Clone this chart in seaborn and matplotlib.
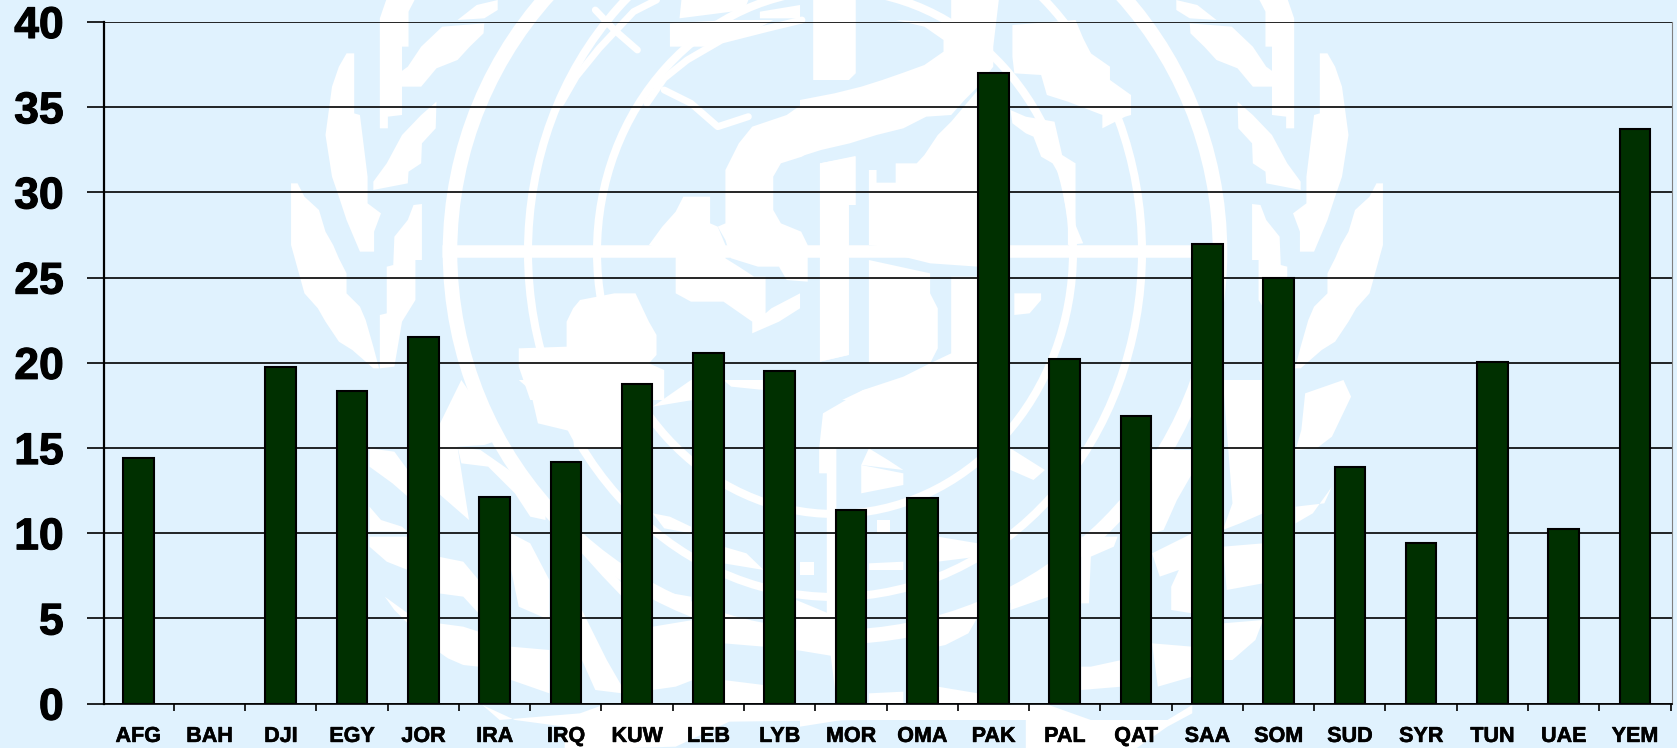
import numpy as np
import matplotlib
matplotlib.use("Agg")
import matplotlib.pyplot as plt
import matplotlib.patheffects as pe
from matplotlib.patches import Polygon, Ellipse
from matplotlib.ticker import FixedLocator, NullFormatter
import seaborn as sns
import pandas as pd

countries = ["AFG","BAH","DJI","EGY","JOR","IRA","IRQ","KUW","LEB","LYB","MOR","OMA",
             "PAK","PAL","QAT","SAA","SOM","SUD","SYR","TUN","UAE","YEM"]
values = [14.4, np.nan, 19.75, 18.35, 21.5, 12.15, 14.2, 18.75, 20.55, 19.55, 11.35, 12.05,
          37.0, 20.2, 16.9, 26.95, 25.0, 13.9, 9.45, 20.05, 10.25, 33.7]
y_ticks = [0, 5, 10, 15, 20, 25, 30, 35, 40]

BG = "#E0F2FE"
BAR = "#003000"
W, H = 1677, 748

sns.set_theme(style="white")
plt.rcParams["font.family"] = ["Liberation Sans", "DejaVu Sans"]

fig = plt.figure(figsize=(W / 100, H / 100), dpi=100, facecolor=BG)

# decorative emblem watermark behind the chart (pixel space of the figure)
bg = fig.add_axes([0, 0, 1, 1], zorder=0)
bg.set_xlim(0, W); bg.set_ylim(H, 0); bg.axis("off")
CX, CY, MIRROR = 835, 252, 837
for a, b, lw in [(385, 385, 10.5), (307, 345, 5.8), (238, 262, 5.8)]:
    bg.add_patch(Ellipse((CX, CY), 2 * a, 2 * b, fc="none", ec="white", lw=lw))
bg.plot([442, 1217], [251, 251], color="white", lw=9, solid_capstyle="butt")

SX = 2.613
def conv(x0, y0, pts):
    return [(x0 + x / SX, y0 + y / 3) for x, y in pts]

leaves = [
    [(305,-5),(287,55),(287,385),(308,385),(308,350),(345,345),(345,140),(362,140),(362,35),(380,-5)],
    [(200,160),(180,200),(162,260),(145,405),(162,530),(180,590),(200,660),(235,755),(272,755),(272,695),(290,640),(255,610),(255,530),(235,345),(220,340),(220,160)],
    [(397,612),(375,615),(360,660),(325,710),(322,795),(305,800),(305,940),(287,945),(287,1105),(325,1100),(345,965),(380,900),(380,780),(397,780)],
    [(55,550),(55,735),(90,880),(125,925),(145,965),(180,1025),(215,1050),(270,1105),(285,1105),(270,1040),(250,960),(235,920),(200,880),(200,820),(180,775),(165,735),(145,695),(128,630),(90,590),(72,550)],
    [(330,225),(360,200),(395,140),(450,80),(560,70),(558,100),(522,140),(490,180),(435,205),(395,260),(330,260)],
    [(270,570),(270,545),(305,490),(345,405),(395,345),(435,305),(433,385),(397,430),(395,490),(362,515),(360,550)],
    [(490,60),(540,15),(595,0),(595,30),(560,55)],
]
for poly in leaves:
    pts = conv(270, 0, poly)
    bg.add_patch(Polygon(pts, fc="white", ec="none"))
    bg.add_patch(Polygon([(2 * MIRROR - x, y) for x, y in pts], fc="white", ec="none"))

for line in [
    [(985,310),(1030,235),(1090,180),(1180,120),(1300,85),(1390,60)],
    [(850,30),(900,90),(960,150)],
    [(1030,270),(1100,310),(1170,380),(1250,350)],
    [(760,310),(800,230),(860,145),(950,35),(1010,0)],
]:
    xy = np.array(conv(270, 0, line))
    bg.plot(xy[:, 0], xy[:, 1], color="white", lw=5, solid_capstyle="round")

zoom3_shapes = [
    [(1420,-5),(1530,-5),(1530,220),(1510,240),(1420,240)],
    [(1437,490),(1530,470),(1530,615),(1510,615),(1510,1065),(1437,1085)],
    [(1190,510),(1225,430),(1260,380),(1350,345),(1400,305),(1568,285),(1568,405),(1440,430),(1390,470),(1335,490),(1315,530),(1315,630),(1335,670),(1388,695),(1405,735),(1405,845),(1350,840),(1330,800),(1275,800),(1205,775),(1190,720),(1170,680),(1190,670)],
    [(1060,760),(990,735),(1025,680),(1060,635),(1080,590),(1150,590),(1150,670),(1170,680),(1190,735),(1190,775),(1225,800),(1265,830),(1295,830),(1295,940),(1310,925),(1385,880),(1385,925),(1330,965),(1260,1000),(1260,965),(1185,905),(1100,905),(1060,880)],
    [(775,1040),(775,965),(792,925),(810,900),(900,880),(955,880),(990,965),(1010,1005),(1010,1065),(990,1090),(1030,1110),(1030,1200),(680,1200),(650,1100),(650,1045)],
    [(1045,70),(1200,60),(1315,60),(1260,95),(1190,120),(1150,140),(1045,140)],
    [(1075,0),(1250,0),(1240,30),(1070,55)],
    [(1280,35),(1385,15),(1385,55),(1280,55)],
]
zoom4_shapes = [
    [(35,-5),(145,-5),(145,220),(128,240),(35,240)],
    [(52,490),(145,468),(145,615),(128,615),(128,1065),(52,1085)],
    [(180,510),(200,510),(200,548),(250,548),(250,490),(305,490),(325,465),(360,405),(395,365),(465,270),(465,800),(340,790),(270,770),(215,740),(180,735)],
    [(180,780),(340,820),(340,880),(360,925),(360,1045),(340,1090),(180,1090),(180,930)],
    [(395,830),(465,830),(465,1200),(110,1200),(165,1170),(270,1130),(340,1090),(395,1060)],
    [(395,-5),(520,-5),(505,140),(505,200),(465,260),(430,300),(395,345),(330,350),(270,385),(200,405),(130,430),(55,450),(0,470),(0,300),(90,280),(160,260),(215,240),(270,218),(325,195),(375,155),(375,120),(325,80),(250,60),(395,70)],
    [(555,75),(720,60),(740,115),(760,160),(810,200),(810,240),(865,285),(865,345),(850,350),(790,385),(790,345),(700,305),(645,285),(630,225),(560,220),(555,170)],
    [(550,330),(590,350),(665,365),(685,465),(720,490),(720,675),(740,730),(700,735),(700,660),(680,530),(660,490),(630,470),(610,410),(590,400),(555,370)],
    [(560,880),(630,880),(630,900),(600,940),(560,945)],
]
zoom5_shapes = [
    [(260,205),(325,215),(360,270),(360,350),(320,310),(260,260)],
    [(260,380),(290,420),(345,440),(360,455),(260,455)],
    [(260,470),(360,470),(360,570),(305,545),(260,500)],
    [(300,650),(360,700),(360,730),(325,690)],
    [(440,530),(505,545),(545,600),(545,700),(505,650),(440,640)],
    [(440,730),(505,740),(545,755),(545,860),(505,855),(465,835),(440,815)],
    [(500,0),(560,100),(610,175),(560,195),(490,200),(520,420),(440,340),(440,140)],
    [(490,200),(550,210),(650,290),(720,400),(720,420),(680,410),(640,340),(570,260),(500,250)],
    [(630,800),(730,810),(730,940),(630,900)],
    [(630,460),(680,490),(730,600),(730,720),(650,680),(630,570)],
    [(815,470),(920,610),(920,650),(870,590),(815,520)],
    [(815,690),(880,840),(920,920),(920,940),(850,930),(815,840)],
    [(650,0),(680,30),(700,130),(790,155),(795,205),(1000,205),(1000,0)],
    [(1000,80),(1105,60),(1105,0),(1100,0)],
    [(1000,400),(1045,410),(1100,440),(1100,460),(1030,445)],
    [(1000,630),(1040,670),(1100,690),(1100,650)],
    [(1000,740),(1105,720),(1105,900),(1060,920),(1000,930)],
    [(1185,0),(1290,0),(1290,30),(1205,20)],
    [(1185,500),(1245,520),(1290,570),(1185,550)],
    [(1185,730),(1290,760),(1290,800),(1185,790)],
    [(1185,900),(1290,915),(1290,970),(1185,970)],
    [(1375,660),(1480,710),(1480,830),(1375,810)],
    [(555,975),(600,1020),(810,1000),(870,975),(1568,975),(1568,1020),(1200,1025),(1060,1100),(940,1104),(770,1104),(770,1040),(640,1020)],
]
zoom6_shapes = [
    [(60,100),(165,30),(330,0),(465,50),(465,205),(50,205)],
    [(50,205),(95,205),(95,960),(70,735),(70,280),(50,280)],
    [(160,255),(270,280),(270,315),(160,340)],
    [(180,205),(230,240),(270,270),(160,255)],
    [(360,470),(465,490),(465,530),(360,545)],
    [(360,720),(465,710),(440,760),(380,795),(360,800)],
    [(360,920),(465,940),(465,970),(360,970)],
    [(180,940),(270,935),(270,970),(180,970)],
    [(180,550),(270,545),(270,570),(180,570)],
    [(200,420),(235,420),(235,460),(200,460)],
    [(0,545),(37,545),(37,585),(0,585)],
    [(550,205),(640,270),(610,300),(550,270)],
    [(550,630),(650,590),(650,650),(550,690)],
    [(735,470),(830,470),(820,500),(760,530),(755,670),(735,670)],
    [(760,860),(840,840),(840,920),(735,930),(735,860)],
    [(920,790),(1025,800),(1025,890),(935,920)],
    [(920,520),(1025,460),(1025,700),(970,690),(970,620),(990,570),(940,590)],
    [(920,210),(1025,210),(1025,280),(985,360),(950,450),(920,460)],
    [(1105,0),(1210,0),(1210,400),(1150,430),(1105,450),(1130,370)],
    [(1105,500),(1210,490),(1210,610),(1115,630)],
    [(1105,730),(1210,720),(1190,780),(1130,840),(1105,840)],
    [(1295,210),(1350,205),(1390,170),(1440,50),(1420,0),(1320,40),(1310,150)],
    [(1295,380),(1370,370),(1390,320),(1340,400),(1295,430)],
    [(0,975),(650,975),(760,1020),(960,1020),(1025,975),(1025,1000),(960,1040),(880,1104),(590,1104),(590,1020),(110,1020),(0,1040)],
]
for (x0, y0, shapes) in [(270, 0, zoom3_shapes), (800, 0, zoom4_shapes),
                         (270, 380, zoom5_shapes), (800, 380, zoom6_shapes)]:
    for poly in shapes:
        bg.add_patch(Polygon(conv(x0, y0, poly), fc="white", ec="none"))

# the chart itself
ax = fig.add_axes([104 / W, 1 - 703.7 / H, (1672 - 104) / W, (703.7 - 22) / H], zorder=1)
ax.patch.set_alpha(0)
df = pd.DataFrame({"country": countries, "value": values})
sns.barplot(data=df, x="country", y="value", color=BAR, saturation=1, width=0.43,
            edgecolor="black", linewidth=1.5, ax=ax, zorder=3)

ax.set_xlim(-0.48, len(countries) - 0.48)
ax.set_ylim(0, 40)
ax.set_xlabel(""); ax.set_ylabel("")
ax.set_yticks(y_ticks)
ax.set_axisbelow(True)
ax.grid(axis="y", color="black", lw=1.2)
ax.grid(axis="x", visible=False)

ax.xaxis.set_major_locator(FixedLocator(np.arange(len(countries))))
ax.set_xticklabels(countries, fontsize=15.5, fontweight="bold", color="black")
ax.xaxis.set_minor_locator(FixedLocator(np.arange(-0.5, len(countries))))
ax.xaxis.set_minor_formatter(NullFormatter())
ax.tick_params(axis="x", which="major", length=0, pad=16)
ax.tick_params(axis="x", which="minor", bottom=True, length=5, width=1.2, color="black")
ax.tick_params(axis="y", left=True, length=12, width=1.2, color="black", pad=17)
for t in ax.get_yticklabels():
    t.set_fontsize(32); t.set_fontweight("bold"); t.set_color("black")
    t.set_path_effects([pe.withStroke(linewidth=0.8, foreground="black")])
for t in ax.get_xticklabels():
    t.set_path_effects([pe.withStroke(linewidth=0.4, foreground="black")])

ax.spines["top"].set_visible(False)
ax.spines["left"].set(color="black", linewidth=1.6)
ax.spines["bottom"].set(color="black", linewidth=1.2)
ax.spines["right"].set(color="#808080", linewidth=0.8)

fig.savefig("out.png", dpi=100, facecolor=BG)
